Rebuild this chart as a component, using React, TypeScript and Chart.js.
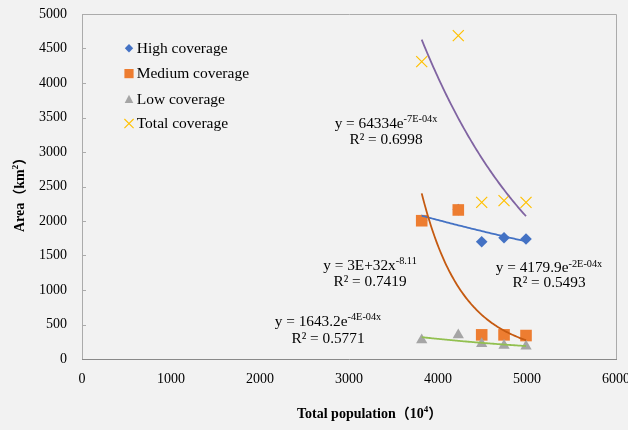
import React, { useEffect, useRef } from 'react';
import { Chart, registerables } from 'chart.js';

Chart.register(...registerables);

const SERIF = '"Liberation Serif", "Times New Roman", serif';
const SERIF_CJK = '"Liberation Serif", "Times New Roman", "Noto Sans CJK SC", serif';

// ---- data ----
const population = [3817, 4228, 4491, 4742, 4989];
const highArea = [2010, 2165, 1700, 1758, 1739];
const mediumArea = [2004, 2160, 350, 350, 340];
const lowArea = [275, 348, 220, 196, 186];
const totalArea = [4309, 4686, 2270, 2295, 2270];

const seriesNames = ['High coverage', 'Medium coverage', 'Low coverage', 'Total coverage'];
const markerColors = ['#4472C4', '#ED7D31', '#A5A5A5', '#FFC000'];
const trendColors = ['#4472C4', '#C55A11', '#92C050', '#8064A2'];

const xAxisMin = 0;
const xAxisMax = 6000;
const xAxisStep = 1000;
const yAxisMin = 0;
const yAxisMax = 5000;
const yAxisStep = 500;

const xAxisTitle = 'Total population';
const yAxisTitle = 'Area';

const equationMain = ['y = 4179.9e', 'y = 3E+32x', 'y = 1643.2e', 'y = 64334e'];
const equationSup = ['-2E-04x', '-8.11', '-4E-04x', '-7E-04x'];
const equationR2 = ['R² = 0.5493', 'R² = 0.7419', 'R² = 0.5771', 'R² = 0.6998'];

// ---- regression helpers (Excel-style trendlines computed from the data) ----
const mean = (a: number[]) => a.reduce((s, v) => s + v, 0) / a.length;

function linFit(xs: number[], ys: number[]) {
  const mx = mean(xs);
  const my = mean(ys);
  let sxy = 0;
  let sxx = 0;
  for (let i = 0; i < xs.length; i++) {
    sxy += (xs[i] - mx) * (ys[i] - my);
    sxx += (xs[i] - mx) * (xs[i] - mx);
  }
  const b = sxy / sxx;
  return { a: my - b * mx, b };
}

function expFit(xs: number[], ys: number[]) {
  const { a, b } = linFit(xs, ys.map(Math.log));
  const A = Math.exp(a);
  return (x: number) => A * Math.exp(b * x);
}

function powFit(xs: number[], ys: number[]) {
  const { a, b } = linFit(xs.map(Math.log), ys.map(Math.log));
  const A = Math.exp(a);
  return (x: number) => A * Math.pow(x, b);
}

function curve(f: (x: number) => number, xs: number[]) {
  const lo = Math.min(...xs);
  const hi = Math.max(...xs);
  const n = 80;
  const pts: { x: number; y: number }[] = [];
  for (let i = 0; i <= n; i++) {
    const x = lo + ((hi - lo) * i) / n;
    pts.push({ x, y: f(x) });
  }
  return pts;
}

const toPoints = (ys: number[]) => population.map((x, i) => ({ x, y: ys[i] }));

// ---- drawing helpers ----
function drawMarker(ctx: CanvasRenderingContext2D, kind: string, x: number, y: number, color: string) {
  ctx.save();
  ctx.fillStyle = color;
  ctx.strokeStyle = color;
  ctx.beginPath();
  if (kind === 'diamond') {
    const h = 4.2;
    ctx.moveTo(x, y - h);
    ctx.lineTo(x + h, y);
    ctx.lineTo(x, y + h);
    ctx.lineTo(x - h, y);
    ctx.closePath();
    ctx.fill();
  } else if (kind === 'square') {
    ctx.rect(x - 4.6, y - 4.6, 9.2, 9.2);
    ctx.fill();
  } else if (kind === 'triangle') {
    ctx.moveTo(x, y - 4.3);
    ctx.lineTo(x + 4.3, y + 4.1);
    ctx.lineTo(x - 4.3, y + 4.1);
    ctx.closePath();
    ctx.fill();
  } else {
    ctx.lineWidth = 1.1;
    ctx.moveTo(x - 4.6, y - 4.6);
    ctx.lineTo(x + 4.6, y + 4.6);
    ctx.moveTo(x + 4.6, y - 4.6);
    ctx.lineTo(x - 4.6, y + 4.6);
    ctx.stroke();
  }
  ctx.restore();
}

const EQ_FONT = 15.3;
const SUP_FONT = 10.3;

function drawEquation(ctx: CanvasRenderingContext2D, i: number, cx: number, y1: number, y2: number) {
  const main = equationMain[i];
  const sup = equationSup[i];
  ctx.font = `${EQ_FONT}px ${SERIF}`;
  const w1 = ctx.measureText(main).width;
  ctx.font = `${SUP_FONT}px ${SERIF}`;
  const w2 = ctx.measureText(sup).width;
  const left = cx - (w1 + w2) / 2;
  ctx.fillStyle = '#000';
  ctx.textBaseline = 'alphabetic';
  ctx.textAlign = 'left';
  ctx.font = `${EQ_FONT}px ${SERIF}`;
  const base = y1 + 5;
  ctx.fillText(main, left, base);
  ctx.font = `${SUP_FONT}px ${SERIF}`;
  ctx.fillText(sup, left + w1, base - 5.8);
  ctx.font = `${EQ_FONT}px ${SERIF}`;
  ctx.textAlign = 'center';
  ctx.fillText(equationR2[i], cx, y2 + 5);
}

const decorPlugin = {
  id: 'decor',
  beforeDraw(chart: any) {
    const { ctx, width, height } = chart;
    ctx.save();
    ctx.fillStyle = '#F2F2F2';
    ctx.fillRect(0, 0, width, height);
    ctx.restore();
  },
  beforeDatasetsDraw(chart: any) {
    const { ctx, chartArea } = chart;
    const { left, right, top, bottom } = chartArea;
    ctx.save();
    ctx.lineWidth = 1;
    ctx.strokeStyle = '#ABABAB';
    ctx.beginPath();
    ctx.moveTo(Math.round(left) + 0.5, Math.round(bottom) + 0.5);
    ctx.lineTo(Math.round(left) + 0.5, Math.round(top) + 0.5);
    ctx.lineTo(Math.round(right) + 0.5, Math.round(top) + 0.5);
    ctx.lineTo(Math.round(right) + 0.5, Math.round(bottom) + 0.5);
    ctx.stroke();
    // inner ticks on value axis
    const ys = chart.scales.y;
    ctx.beginPath();
    for (const t of ys.ticks) {
      const py = Math.round(ys.getPixelForValue(t.value)) + 0.5;
      ctx.moveTo(Math.round(left), py);
      ctx.lineTo(Math.round(left) + 4, py);
    }
    ctx.stroke();
    ctx.strokeStyle = '#898989';
    ctx.beginPath();
    ctx.moveTo(Math.round(left), Math.round(bottom) + 0.5);
    ctx.lineTo(Math.round(right) + 1, Math.round(bottom) + 0.5);
    ctx.stroke();
    ctx.restore();
  },
  afterDraw(chart: any) {
    const { ctx, chartArea } = chart;
    const { left } = chartArea;
    ctx.save();
    // legend inside plot area
    const kinds = ['diamond', 'square', 'triangle', 'cross'];
    const rowY = [48.3, 73.6, 99, 123.6];
    ctx.font = `15.5px ${SERIF}`;
    ctx.textBaseline = 'middle';
    ctx.textAlign = 'left';
    for (let i = 0; i < seriesNames.length; i++) {
      drawMarker(ctx, kinds[i], left + 47, rowY[i], markerColors[i]);
      ctx.fillStyle = '#000';
      ctx.fillText(seriesNames[i], left + 54.7, rowY[i] + 0.5);
    }
    // trendline equations
    drawEquation(ctx, 0, 549, 267.3, 281.5);
    drawEquation(ctx, 1, 370, 264.5, 281);
    drawEquation(ctx, 2, 328, 320.5, 337.5);
    drawEquation(ctx, 3, 386, 123, 139);

    // x axis title
    ctx.fillStyle = '#000';
    ctx.textBaseline = 'middle';
    ctx.textAlign = 'left';
    let x = 297;
    const ty = 414;
    ctx.font = `bold 14px ${SERIF_CJK}`;
    ctx.fillText(xAxisTitle + '（10', x, ty);
    x += ctx.measureText(xAxisTitle + '（10').width;
    ctx.font = `bold 9px ${SERIF}`;
    ctx.fillText('4', x, ty - 4);
    x += ctx.measureText('4').width;
    ctx.font = `bold 14px ${SERIF_CJK}`;
    ctx.fillText('）', x, ty);

    // y axis title (rotated)
    ctx.translate(20, 232);
    ctx.rotate(-Math.PI / 2);
    let yx = 0;
    ctx.font = `bold 14px ${SERIF_CJK}`;
    ctx.fillText(yAxisTitle + '（km', yx, 0);
    yx += ctx.measureText(yAxisTitle + '（km').width;
    ctx.font = `bold 9px ${SERIF}`;
    ctx.fillText('2', yx, -4);
    yx += ctx.measureText('2').width;
    ctx.font = `bold 14px ${SERIF_CJK}`;
    ctx.fillText('）', yx, 0);
    ctx.restore();
  },
};

export default function App() {
  const ref = useRef<HTMLCanvasElement>(null);

  useEffect(() => {
    if (!ref.current) return;
    const highFit = expFit(population, highArea);
    const medFit = powFit(population, mediumArea);
    const lowFit = expFit(population, lowArea);
    const totalFit = expFit(population, totalArea);

    const trend = (label: string, f: (x: number) => number, color: string, order: number) => ({
      label,
      data: curve(f, population),
      showLine: true,
      borderColor: color,
      borderWidth: 1.8,
      pointRadius: 0,
      pointHoverRadius: 0,
      fill: false,
      tension: 0,
      order,
    });

    const plain = (v: any) => String(v);

    const chart = new Chart(ref.current, {
      type: 'scatter',
      data: {
        datasets: [
          {
            label: seriesNames[0],
            data: toPoints(highArea),
            pointStyle: 'rectRot',
            pointRadius: 5.8,
            backgroundColor: markerColors[0],
            borderColor: markerColors[0],
            borderWidth: 0,
            order: 8,
          },
          {
            label: seriesNames[1],
            data: toPoints(mediumArea),
            pointStyle: 'rect',
            pointRadius: 8.2,
            backgroundColor: markerColors[1],
            borderColor: markerColors[1],
            borderWidth: 0,
            order: 7,
          },
          {
            label: seriesNames[2],
            data: toPoints(lowArea),
            pointStyle: 'triangle',
            pointRadius: 6.5,
            backgroundColor: markerColors[2],
            borderColor: markerColors[2],
            borderWidth: 0,
            order: 6,
          },
          {
            label: seriesNames[3],
            data: toPoints(totalArea),
            pointStyle: 'crossRot',
            pointRadius: 7.8,
            backgroundColor: markerColors[3],
            borderColor: markerColors[3],
            borderWidth: 1.2,
            order: 5,
          },
          trend('High trend', highFit, trendColors[0], 4),
          trend('Medium trend', medFit, trendColors[1], 3),
          trend('Low trend', lowFit, trendColors[2], 2),
          trend('Total trend', totalFit, trendColors[3], 1),
        ] as any,
      },
      options: {
        responsive: false,
        animation: false,
        devicePixelRatio: 1,
        layout: { padding: { top: 14, right: 12, left: 0, bottom: 0 } },
        plugins: {
          legend: { display: false },
          tooltip: { enabled: false },
        },
        scales: {
          x: {
            type: 'linear',
            min: xAxisMin,
            max: xAxisMax,
            ticks: {
              stepSize: xAxisStep,
              font: { family: SERIF, size: 14 },
              color: '#000',
              padding: 11.5,
              maxRotation: 0,
              callback: plain,
            },
            grid: { display: false, drawTicks: false },
            border: { display: false },
            afterFit: (s: any) => {
              s.height = 71;
              s.paddingLeft = 0;
              s.paddingRight = 0;
            },
          },
          y: {
            type: 'linear',
            min: yAxisMin,
            max: yAxisMax,
            ticks: {
              stepSize: yAxisStep,
              font: { family: SERIF, size: 14 },
              color: '#000',
              padding: 15,
              callback: plain,
            },
            grid: { display: false, drawTicks: false },
            border: { display: false },
            afterFit: (s: any) => {
              s.width = 82;
              s.paddingTop = 0;
              s.paddingBottom = 0;
            },
          },
        },
      } as any,
      plugins: [decorPlugin],
    });
    return () => chart.destroy();
  }, []);

  return (
    <div style={{ position: 'fixed', left: 0, top: 0, width: 628, height: 430 }}>
      <canvas ref={ref} width={628} height={430} style={{ display: 'block', width: 628, height: 430 }} />
    </div>
  );
}
